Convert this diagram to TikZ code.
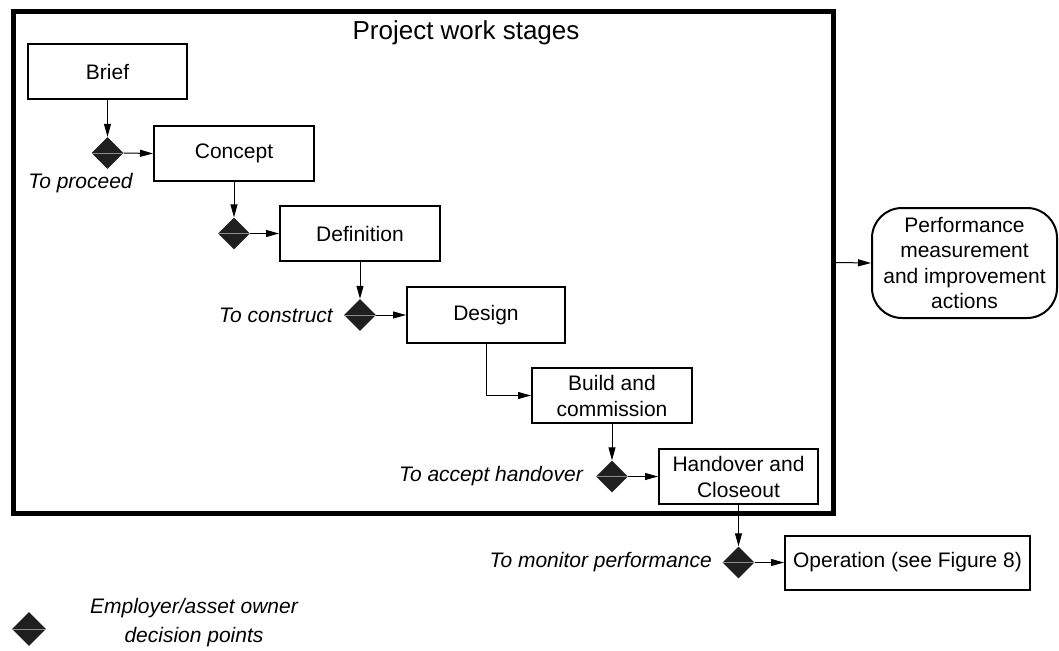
\documentclass[tikz,border=0pt]{standalone}
\usepackage{fontspec}
\setmainfont{Liberation Sans}
\usetikzlibrary{shapes.geometric,arrows.meta}
\begin{document}
\begin{tikzpicture}[x=1pt,y=-1pt,
  stagebox/.style={draw, line width=2pt, minimum width=159pt, minimum height=55pt,
    inner sep=0pt, align=center, font=\fontsize{21}{26}\selectfont},
  dec/.style={diamond, fill=black!88, draw=none, minimum width=32pt, minimum height=32pt,
    inner sep=0pt,
    path picture={\draw[black!45, line width=0.5pt] (path picture bounding box.west) -- (path picture bounding box.east);}},
  lbl/.style={font=\fontsize{21}{29}\selectfont\itshape, inner sep=0pt},
  conn/.style={-{Triangle[length=13pt,width=7pt]}, line width=1pt},
]
\useasboundingbox (0,0) rectangle (1059,650);

\node[draw, line width=5pt, minimum width=820pt, minimum height=501pt, inner sep=0pt] (frame) at (423,262.5) {};
\node[font=\fontsize{26}{30}\selectfont] (title) at (466,33) {Project work stages};

\node[stagebox] (brief) at (107.5,72) {Brief};
\node[dec] (d1) at (107.5,153) {};
\node[stagebox, minimum width=160pt] (concept) at (234,153.5) {Concept};
\node[lbl] (l1) at (80.5,183) {To proceed};

\node[dec] (d2) at (234,233.5) {};
\node[stagebox, minimum width=160pt] (definition) at (360,233.5) {Definition};

\node[dec] (d3) at (360,315) {};
\node[lbl, anchor=east] (l3) at (333,315) {To construct};
\node[stagebox, minimum width=158pt, minimum height=56pt] (design) at (486,315) {Design};

\node[stagebox, minimum width=160pt] (build) at (612,395.5) {Build and\\commission};

\node[dec] (d4) at (612,476.5) {};
\node[lbl, anchor=east] (l4) at (583,476.5) {To accept handover};
\node[stagebox] (handover) at (738.5,476.5) {Handover and\\Closeout};

\node[dec] (d5) at (738.5,562.5) {};
\node[lbl, anchor=east] (l5) at (712,562.5) {To monitor performance};
\node[stagebox, minimum width=245pt, minimum height=54pt] (operation) at (907.5,562.5) {Operation (see Figure 8)};

\node[draw, line width=2pt, rounded corners=30pt, minimum width=185pt, minimum height=110pt,
  inner sep=0pt, align=center, font=\fontsize{21}{25.5}\selectfont] (perf) at (964.5,263)
  {Performance\\measurement\\and improvement\\actions};

\node[dec, minimum width=34pt, minimum height=34pt] (legd) at (29,629) {};
\node[lbl, align=center] (legt) at (194,623) {Employer/asset owner\\decision points};

\draw[conn] (brief.south) -- (d1.north);
\draw[conn] (d1.east) -- (concept.west);
\draw[conn] (concept.south) -- (d2.north);
\draw[conn] (d2.east) -- (definition.west);
\draw[conn] (definition.south) -- (d3.north);
\draw[conn] (d3.east) -- (design.west);
\draw[conn] (design.south) |- (build.west);
\draw[conn] (build.south) -- (d4.north);
\draw[conn] (d4.east) -- (handover.west);
\draw[conn] (handover.south) -- (d5.north);
\draw[conn] (d5.east) -- (operation.west);
\draw[conn] (frame.east) -- (perf.west);
\end{tikzpicture}
\end{document}
